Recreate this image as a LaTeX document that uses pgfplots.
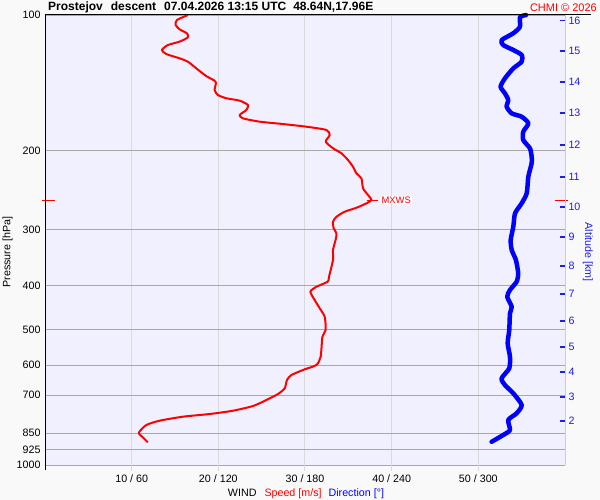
\documentclass[border=0pt]{standalone}
\usepackage{pgfplots}
\pgfplotsset{compat=1.18}
\usepackage{fontspec}
\setmainfont{Liberation Sans}
\definecolor{plotbg}{RGB}{240,240,255}
\definecolor{hgrid}{RGB}{168,168,168}
\definecolor{vgrid}{RGB}{218,218,218}
\definecolor{outerbg}{RGB}{249,249,249}
\definecolor{altline}{RGB}{205,205,212}
\definecolor{altblue}{RGB}{30,30,230}
\begin{document}
\begin{tikzpicture}
\fill[outerbg] (0,0) rectangle (600bp,500bp);
\path[use as bounding box] (0,0) rectangle (600bp,500bp);
\begin{axis}[
  at={(45bp,35bp)}, anchor=south west,
  width=520bp, height=450bp, scale only axis,
  xmin=0, xmax=60, ymin=100, ymax=1000,
  ymode=log, y dir=reverse,
  axis background/.style={fill=plotbg},
  axis line style={draw=none},
  xtick={10,20,30,40,50},
  xticklabels={10 / 60, 20 / 120, 30 / 180, 40 / 240, 50 / 300},
  ytick={100,200,300,400,500,600,700,850,925,1000},
  yticklabels={100,200,300,400,500,600,700,850,925,1000},
  xmajorgrids, ymajorgrids,
  x grid style={vgrid, line width=1bp},
  y grid style={hgrid, line width=1bp},
  tick align=outside, major tick length=6bp,
  xtick pos=left, ytick pos=left,
  xtick style={draw=vgrid, line width=1bp},
  ytick style={draw=none},
  yticklabel style={xshift=5bp},
  tick label style={font=\fontsize{10.7bp}{12bp}\selectfont},
  /pgf/number format/assume math mode=true,
  clip=false,
]
\addplot[red, line width=2bp, smooth, tension=0.4, line join=round] coordinates {
(16.49,100) (15.22,102.6) (15.07,105.2) (15.53,107.6) (16.37,109.8) (16.49,112.1)
(15.53,114.6) (14.18,116.6) (13.49,119.6) (13.99,122.1) (15.53,124.8) (16.49,127.0)
(17.46,131.4) (18.61,136.7) (19.69,140.7) (19.57,146.8) (19.95,150.6) (20.92,153.1)
(22.46,155.0) (23.42,158.5) (23.23,162.6) (22.46,166.8) (22.84,169.7) (24.77,172.6)
(27.46,174.7) (30.16,177.1) (32.47,180.1) (32.85,184.8) (32.39,191.2) (33.23,197.8)
(34.20,202.9) (34.97,210.1) (35.54,217.4) (35.94,224.9) (36.51,230.7) (36.70,242.7)
(37.27,251.2) (37.67,257.7) (37.09,262.1) (35.94,268.1) (34.58,273.6) (33.63,280.8)
(33.23,288.0) (33.31,297.9) (33.63,305.6) (33.55,315.1) (33.23,332.8) (33.23,350.3)
(32.77,381.6) (32.62,391.5) (31.32,401.6) (30.62,412.0) (31.12,430.0) (31.70,448.6)
(32.27,468.3) (32.39,501.2) (32.01,518.6) (31.81,574.5) (31.32,599.5) (29.97,612.8)
(28.43,631.0) (27.92,647.4) (27.66,675.5) (26.88,695.5) (25.54,717.2) (24.00,739.5)
(21.69,757.5) (19.00,770.4) (15.91,781.1) (13.22,797.3) (11.69,815.0) (10.83,847.7)
(11.29,867.9) (11.87,890.4)
};
% MXWS markers
\addplot[red, line width=0.9bp] coordinates {(-0.3,257.7) (1.2,257.7)};
\addplot[red, line width=0.9bp] coordinates {(37.1,257.7) (38.4,257.7)};
\addplot[red, line width=0.9bp] coordinates {(58.8,257.7) (60.3,257.7)};
\node[anchor=west, text=red, fill=white, inner sep=1bp, font=\fontsize{9.4bp}{11bp}\selectfont] at (axis cs:38.7,257.7) {MXWS};
\end{axis}
\begin{axis}[
  at={(45bp,35bp)}, anchor=south west,
  width=520bp, height=450bp, scale only axis,
  xmin=0, xmax=360, ymin=100, ymax=1000,
  ymode=log, y dir=reverse,
  axis x line=none, axis y line*=right,
  y axis line style={draw=altline, line width=1bp, -},
  ytick={103.0,120.2,140.9,165.1,194.5,229.1,267.1,311.3,361.3,416.9,478.6,546.7,621.5,706.3,798.5},
  yticklabels={16,15,14,13,12,11,10,9,8,7,6,5,4,3,2},
  tick align=inside, major tick length=5bp,
  ytick style={draw=altblue, line width=1.4bp},
  yticklabel style={text=altblue, font=\fontsize{10.7bp}{12bp}\selectfont},
  /pgf/number format/assume math mode=true,
  clip=false,
]
\addplot[blue, line width=4.5bp, smooth, tension=0.4, line join=round, line cap=round] coordinates {
(333.0,100) (328.8,101.2) (328.8,106.2) (324.2,109.8) (316.1,113.7) (317.2,116.6)
(324.2,119.6) (330.0,122.7) (330.0,127.0) (324.2,131.4) (318.4,138.3) (315.4,144.3)
(318.4,149.3) (320.7,154.5) (319.6,159.9) (323.1,165.4) (330.0,168.3) (334.6,174.1)
(331.1,181.7) (331.1,189.6) (335.7,197.8) (336.9,206.5) (336.9,213.6) (334.6,228.8)
(333.5,248.9) (330.0,262.1) (325.4,275.9) (324.2,295.5) (322.4,316.2) (323.1,332.8)
(326.0,350.3) (327.6,375.0) (326.5,391.5) (321.9,408.4) (320.0,422.7) (323.1,444.9)
(321.9,460.2) (321.4,501.2) (320.3,536.5) (321.9,574.5) (321.4,609.7) (316.1,641.8)
(318.4,664.2) (324.2,693.0) (330.0,735.8) (326.5,767.7) (320.7,794.3) (321.9,836.0)
(317.2,857.7) (309.2,888.0)
};
\end{axis}
\draw[black, line width=1bp] (45bp,485bp) -- (591bp,485bp);
\draw[black, line width=1bp] (45bp,485bp) -- (45bp,30bp);
\node[anchor=west, font=\bfseries\fontsize{12bp}{14bp}\selectfont, inner sep=0pt] at (48bp,492.5bp)
  {Prostejov\hspace{8bp}descent\hspace{8bp}07.04.2026 13:15 UTC\hspace{7bp}48.64N,17.96E};
\node[anchor=east, text=red, font=\fontsize{11bp}{13bp}\selectfont, inner sep=0pt] at (597bp,492.5bp) {CHMI © 2026};
\node[rotate=90, font=\fontsize{10.7bp}{12bp}\selectfont, inner sep=0pt] at (7.5bp,248bp) {Pressure [hPa]};
\node[rotate=-90, text=altblue, font=\fontsize{10.7bp}{12bp}\selectfont, inner sep=0pt] at (588bp,248bp) {Altitude [km]};
\node[font=\fontsize{10.7bp}{12bp}\selectfont, inner sep=0pt] at (306bp,6.6bp)
  {WIND\hspace{8bp}\textcolor{red}{Speed [m/s]}\hspace{7bp}\textcolor{blue}{Direction [°]}};
\end{tikzpicture}
\end{document}
